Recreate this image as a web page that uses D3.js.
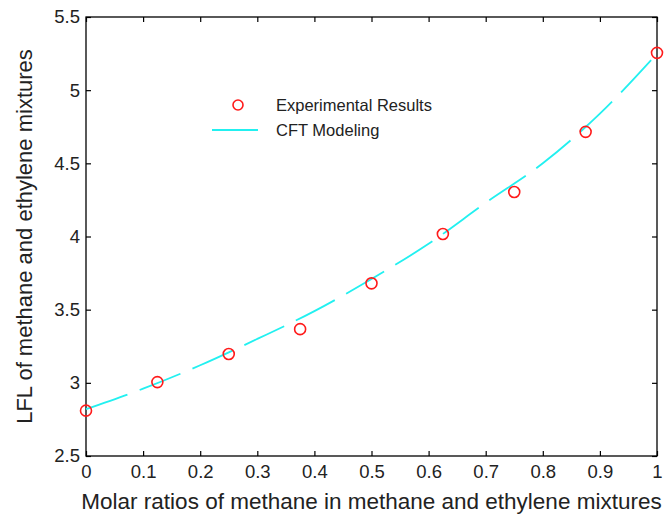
<!DOCTYPE html>
<html><head><meta charset="utf-8">
<script src="https://cdn.jsdelivr.net/npm/d3@7"></script>
<style>body{margin:0;background:#fff}svg text{font-family:"Liberation Sans",Arial,sans-serif;fill:#222}</style>
</head><body><svg id="c" width="670" height="517"></svg>
<script>
const expX = [0, 0.125, 0.25, 0.375, 0.5, 0.625, 0.75, 0.875, 1];
const expY = [2.81, 3.005, 3.197, 3.367, 3.68, 4.017, 4.304, 4.715, 5.255];
const modelX = [0, 0.1, 0.2, 0.3, 0.4, 0.5, 0.6, 0.7, 0.8, 0.9, 1.0];
const modelY = [2.82, 2.96, 3.12, 3.30, 3.49, 3.71, 3.95, 4.23, 4.50, 4.84, 5.25];
const xTicks = [0, 0.1, 0.2, 0.3, 0.4, 0.5, 0.6, 0.7, 0.8, 0.9, 1];
const yTicks = [2.5, 3, 3.5, 4, 4.5, 5, 5.5];
const legendLabels = ["Experimental Results", "CFT Modeling"];

const svg = d3.select("#c");
const L = 86, R = 657, T = 17, B = 456;
const x = d3.scaleLinear().domain([0, 1]).range([L, R]);
const y = d3.scaleLinear().domain([2.5, 5.5]).range([B, T]);

const fmt = d => String(d);
svg.append("g").attr("transform", `translate(0,${B})`)
  .call(d3.axisBottom(x).tickValues(xTicks).tickFormat(fmt).tickSizeInner(-5).tickSizeOuter(0).tickPadding(9))
  .call(g => { g.select(".domain").remove(); g.selectAll("text").attr("font-size", 18.5); });
svg.append("g").attr("transform", `translate(0,${T})`)
  .call(d3.axisTop(x).tickValues(xTicks).tickFormat("").tickSizeInner(-5).tickSizeOuter(0))
  .call(g => g.select(".domain").remove());
svg.append("g").attr("transform", `translate(${L},0)`)
  .call(d3.axisLeft(y).tickValues(yTicks).tickFormat(fmt).tickSizeInner(-5).tickSizeOuter(0).tickPadding(6))
  .call(g => { g.select(".domain").remove(); g.selectAll("text").attr("font-size", 18.5); });
svg.append("g").attr("transform", `translate(${R},0)`)
  .call(d3.axisRight(y).tickValues(yTicks).tickFormat("").tickSizeInner(-5).tickSizeOuter(0))
  .call(g => g.select(".domain").remove());
svg.selectAll(".tick line").attr("stroke", "#000").attr("stroke-width", 1.2);
svg.append("rect").attr("x", L).attr("y", T).attr("width", R - L).attr("height", B - T)
  .attr("fill", "none").attr("stroke", "#000").attr("stroke-width", 1.3);

const line = d3.line().x(d => x(d[0])).y(d => y(d[1])).curve(d3.curveMonotoneX);
svg.append("path").datum(modelX.map((v, i) => [v, modelY[i]]))
  .attr("d", line).attr("fill", "none").attr("stroke", "#22f0f0").attr("stroke-width", 1.8)
  .attr("stroke-dasharray", "44,13");

svg.selectAll("circle.e").data(expX).join("circle").attr("class", "e")
  .attr("cx", d => x(d)).attr("cy", (d, i) => y(expY[i])).attr("r", 5.5)
  .attr("fill", "none").attr("stroke", "#ff1a1a").attr("stroke-width", 1.6);

// legend
svg.append("circle").attr("cx", 238).attr("cy", 105).attr("r", 5).attr("fill", "none")
  .attr("stroke", "#ff1a1a").attr("stroke-width", 1.6);
svg.append("line").attr("x1", 212).attr("x2", 258).attr("y1", 130).attr("y2", 130)
  .attr("stroke", "#22f0f0").attr("stroke-width", 1.8);
svg.append("text").attr("x", 276).attr("y", 111).attr("font-size", 16.5).text(legendLabels[0]);
svg.append("text").attr("x", 276).attr("y", 136).attr("font-size", 16.5).text(legendLabels[1]);

svg.append("text").attr("x", (L + R) / 2).attr("y", 509).attr("text-anchor", "middle")
  .attr("font-size", 22.5).text("Molar ratios of methane in methane and ethylene mixtures");
svg.append("text").attr("transform", `translate(32,${(T + B) / 2}) rotate(-90)`)
  .attr("text-anchor", "middle").attr("font-size", 22).text("LFL of methane and ethylene mixtures");
</script></body></html>
